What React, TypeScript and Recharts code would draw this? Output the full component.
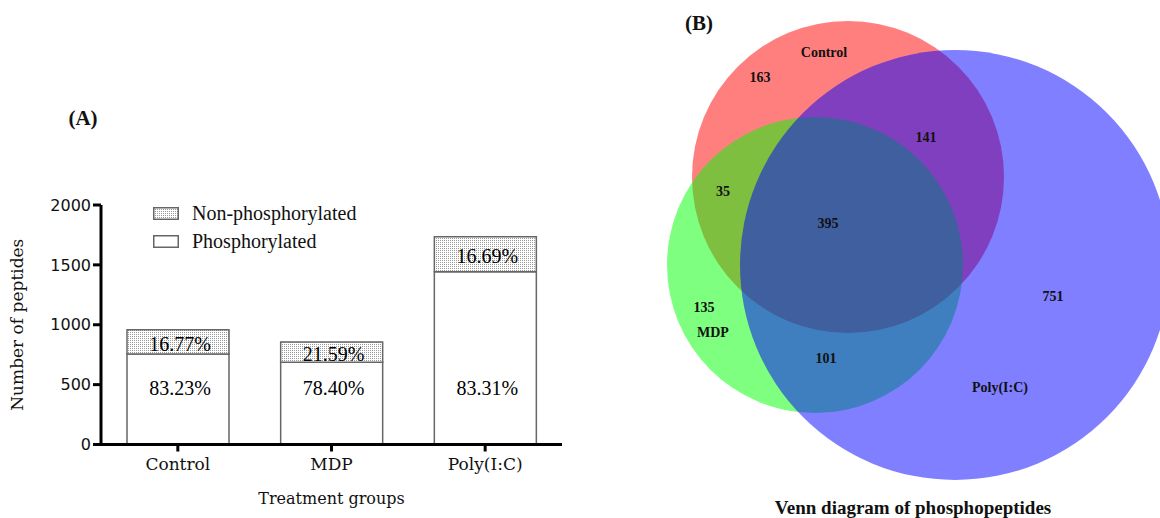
import React from "react";
import {
  BarChart,
  Bar,
  XAxis,
  YAxis,
  ZAxis,
  Legend,
  Label,
  LabelList,
  ScatterChart,
  Scatter,
} from "recharts";

// (A) peptide counts per treatment group
const groups = ["Control", "MDP", "Poly(I:C)"];
const phosphorylated = [755, 686, 1443];
const nonPhosphorylated = [203, 169, 291];
const phosphoShare = ["83.23%", "78.40%", "83.31%"];
const nonPhosphoShare = ["16.77%", "21.59%", "16.69%"];
const yTicks = [0, 500, 1000, 1500, 2000];

// (B) venn sets, laid out in a 500 x 518 space
const vennSets = ["Control", "MDP", "Poly(I:C)"];
const vennX = [188, 155, 295];
const vennY = [177, 265, 265];
const vennR = [156, 148, 215];
const setLabelX = [164, 53, 340];
const setLabelY = [52, 332, 387];

const regionCounts = ["163", "141", "35", "395", "751", "135", "101"];
const regionX = [100, 266, 63, 168, 393, 44, 166];
const regionY = [77, 137, 191, 223, 296, 307, 358];

const VENN_COLORS = ["#ff0000", "#00ff00", "#0000ff"];
const SERIF = "'Liberation Serif', 'Times New Roman', serif";
const AXIS_LINE = { stroke: "#000", strokeWidth: 3 };

const barData = groups.map((g, i) => ({
  group: g,
  phos: phosphorylated[i],
  nonPhos: nonPhosphorylated[i],
  phosLabel: phosphoShare[i],
  nonPhosLabel: nonPhosphoShare[i],
}));

const circleData = vennSets.map((s, i) => ({ name: s, x: vennX[i], y: vennY[i], r: vennR[i] }));

const textData = [
  ...vennSets.map((s, i) => ({ text: s, x: setLabelX[i], y: setLabelY[i] })),
  ...regionCounts.map((c, i) => ({ text: c, x: regionX[i], y: regionY[i] })),
];

const phosLabel = (p: any) => (
  <text
    x={Number(p.x) + Number(p.width) / 2 + 2}
    y={Number(p.y) + Number(p.height) - 57}
    textAnchor="middle"
    dominantBaseline="central"
    fontFamily={SERIF}
    fontSize={20}
    fill="#000"
  >
    {p.value}
  </text>
);

const nonPhosLabel = (p: any) => (
  <text
    x={Number(p.x) + Number(p.width) / 2 + 2}
    y={Number(p.y) + Number(p.height) / 2 + 2}
    textAnchor="middle"
    dominantBaseline="central"
    fontFamily={SERIF}
    fontSize={20}
    fill="#000"
  >
    {p.value}
  </text>
);

const renderLegend = (props: any) => {
  const items = [...(props.payload || [])].sort((a: any) => (a.dataKey === "nonPhos" ? -1 : 1));
  return (
    <div style={{ fontFamily: SERIF, fontSize: 20, color: "#111" }}>
      {items.map((it: any) => (
        <div key={it.value} style={{ display: "flex", alignItems: "center", height: 28 }}>
          <svg width={26} height={13} style={{ marginRight: 13 }}>
            <rect
              x={0.75}
              y={0.75}
              width={24.5}
              height={11.5}
              fill={it.dataKey === "nonPhos" ? "url(#dots)" : "#fff"}
              stroke="#666"
              strokeWidth={1.5}
            />
          </svg>
          <span>{it.value}</span>
        </div>
      ))}
    </div>
  );
};

const vennCircle = (p: any) => {
  const r = typeof p.size === "number" ? p.size : p.payload.r;
  return <circle cx={p.cx} cy={p.cy} r={r} fill={p.fill} fillOpacity={0.5} />;
};

const vennText = (p: any) => (
  <text
    x={p.cx}
    y={p.cy}
    textAnchor="middle"
    dominantBaseline="central"
    fontFamily={SERIF}
    fontWeight="bold"
    fontSize={14}
    fill="#111"
  >
    {p.payload.text}
  </text>
);

const panelTitle: React.CSSProperties = {
  position: "absolute",
  transform: "translate(-50%, -50%)",
  fontFamily: SERIF,
  fontWeight: "bold",
  lineHeight: 1,
  whiteSpace: "nowrap",
  color: "#111",
};

export default function App() {
  return (
    <div
      style={{
        position: "absolute",
        left: 0,
        top: 0,
        width: 1160,
        height: 518,
        background: "#fff",
        overflow: "hidden",
      }}
    >
      <div style={{ position: "absolute", left: 0, top: 0 }}>
        <BarChart
          width={600}
          height={518}
          data={barData}
          margin={{ top: 205, right: 38, left: 41, bottom: 28.5 }}
        >
          <defs>
            <pattern id="dots" width="2" height="2" patternUnits="userSpaceOnUse">
              <rect width="2" height="2" fill="#fff" />
              <rect width="1" height="1" fill="#999" />
            </pattern>
          </defs>
          <XAxis
            dataKey="group"
            height={45}
            interval={0}
            tickSize={7}
            tickMargin={6}
            stroke="#000"
            strokeWidth={3}
            axisLine={AXIS_LINE}
            tickLine={AXIS_LINE}
            tick={{ fontFamily: "'DejaVu Serif', serif", fontSize: 17, fill: "#111", strokeWidth: 0 }}
          >
            <Label
              content={(p: any) => (
                <text
                  x={p.viewBox.x + p.viewBox.width / 2}
                  y={504}
                  textAnchor="middle"
                  fontFamily="'DejaVu Serif', serif"
                  fontSize={16}
                  fill="#111"
                >
                  Treatment groups
                </text>
              )}
            />
          </XAxis>
          <YAxis
            width={60}
            domain={[0, 2000]}
            ticks={yTicks}
            tickSize={8}
            tickMargin={2}
            stroke="#000"
            strokeWidth={3}
            axisLine={AXIS_LINE}
            tickLine={AXIS_LINE}
            tick={{ fontFamily: "'DejaVu Sans', sans-serif", fontSize: 16, fill: "#111", strokeWidth: 0 }}
          >
            <Label
              content={(p: any) => (
                <text
                  transform={`translate(23, ${p.viewBox.y + p.viewBox.height / 2}) rotate(-90)`}
                  textAnchor="middle"
                  fontFamily="'DejaVu Serif', serif"
                  fontSize={17}
                  fill="#111"
                >
                  Number of peptides
                </text>
              )}
            />
          </YAxis>
          <Legend
            layout="vertical"
            align="center"
            verticalAlign="middle"
            content={renderLegend}
            wrapperStyle={{ left: 153, top: 199, width: 260 }}
          />
          <Bar
            dataKey="phos"
            name="Phosphorylated"
            stackId="a"
            fill="#fff"
            stroke="#666"
            strokeWidth={1.5}
            barSize={102}
            isAnimationActive={false}
          >
            <LabelList dataKey="phosLabel" content={phosLabel} />
          </Bar>
          <Bar
            dataKey="nonPhos"
            name="Non-phosphorylated"
            stackId="a"
            fill="url(#dots)"
            stroke="#666"
            strokeWidth={1.5}
            barSize={102}
            isAnimationActive={false}
          >
            <LabelList dataKey="nonPhosLabel" content={nonPhosLabel} />
          </Bar>
        </BarChart>
      </div>

      <div style={{ position: "absolute", left: 660, top: 0 }}>
        <ScatterChart width={500} height={518} margin={{ top: 0, right: 0, bottom: 0, left: 0 }}>
          <XAxis type="number" dataKey="x" domain={[0, 500]} allowDataOverflow hide />
          <YAxis type="number" dataKey="y" domain={[0, 518]} allowDataOverflow reversed hide />
          <ZAxis type="number" dataKey="r" domain={[0, 500]} range={[0, 500]} />
          {circleData.map((c, i) => (
            <Scatter
              key={c.name}
              name={c.name}
              data={[c]}
              fill={VENN_COLORS[i]}
              shape={vennCircle}
              isAnimationActive={false}
            />
          ))}
          <Scatter data={textData} shape={vennText} isAnimationActive={false} />
        </ScatterChart>
      </div>

      <div style={{ ...panelTitle, left: 83, top: 118, fontSize: 21 }}>(A)</div>
      <div style={{ ...panelTitle, left: 699, top: 23, fontSize: 21 }}>(B)</div>
      <div style={{ ...panelTitle, left: 913, top: 507, fontSize: 19 }}>
        Venn diagram of phosphopeptides
      </div>
    </div>
  );
}
